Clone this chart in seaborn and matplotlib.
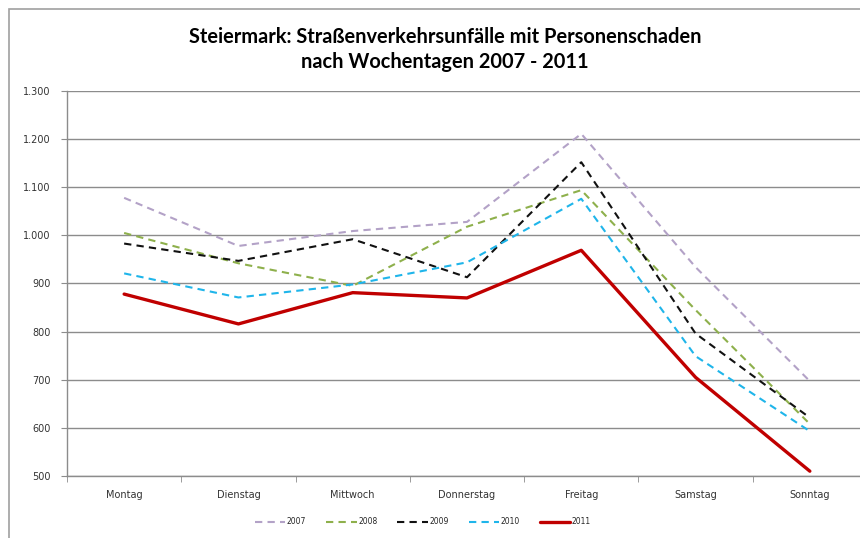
import matplotlib
matplotlib.use("Agg")
import matplotlib.pyplot as plt
import seaborn as sns
import pandas as pd
from matplotlib.patches import Rectangle
from matplotlib.ticker import FuncFormatter, FixedLocator

days = ["Montag", "Dienstag", "Mittwoch", "Donnerstag", "Freitag", "Samstag", "Sonntag"]
years = ["2007", "2008", "2009", "2010", "2011"]
v2007 = [1078, 978, 1009, 1028, 1211, 934, 697]
v2008 = [1005, 942, 895, 1018, 1094, 845, 608]
v2009 = [983, 947, 992, 913, 1152, 796, 621]
v2010 = [921, 871, 898, 944, 1076, 749, 593]
v2011 = [878, 816, 881, 870, 969, 705, 510]

colors = {"2007": "#b3a2c7", "2008": "#8eb04c", "2009": "#111111",
          "2010": "#1fb5ea", "2011": "#c00000"}
dashes = {"2007": (3.5, 2.5), "2008": (3.5, 2.5), "2009": (3.5, 2.5),
          "2010": (3.5, 2.5), "2011": ""}
widths = {"2007": 1.5, "2008": 1.5, "2009": 1.5, "2010": 1.5, "2011": 2.4}

df = pd.DataFrame({"day": days * 5,
                   "x": list(range(7)) * 5,
                   "year": sum([[y] * 7 for y in years], []),
                   "value": v2007 + v2008 + v2009 + v2010 + v2011})

H = 538
sns.set_style("white")
fig = plt.figure(figsize=(8.6, 5.38), dpi=100)
fig.patches.append(Rectangle((9 / 860, -0.1), 1.2, 1 - 9 / H + 0.1, transform=fig.transFigure,
                             fill=False, edgecolor="#a0a0a0", linewidth=1.2))
ax = fig.add_axes([67 / 860, 1 - 476 / H, 800 / 860, 385 / H])

for y in years:
    sub = df[df["year"] == y]
    sns.lineplot(data=sub, x="x", y="value", ax=ax, color=colors[y],
                 linewidth=widths[y], label=y, dashes=False, zorder=3 if y == "2011" else 2)
    line = ax.lines[-1]
    if dashes[y]:
        line.set_dashes(dashes[y])

ax.set_xlim(-0.5, 6.5)
ax.set_ylim(500, 1300)
ax.set_yticks(range(500, 1301, 100))
ax.yaxis.set_major_formatter(FuncFormatter(lambda v, p: f"{int(v):,}".replace(",", ".")))
ax.yaxis.grid(True, color="#8c8c8c", linewidth=1)
ax.set_axisbelow(True)
ax.set_xticks(range(7))
ax.set_xticklabels(days)
ax.xaxis.set_minor_locator(FixedLocator([i + 0.5 for i in range(-1, 7)]))
ax.tick_params(axis="x", which="major", length=0, pad=10, labelsize=7, labelcolor="#333333")
ax.tick_params(axis="x", which="minor", length=4, color="#8c8c8c", direction="out", bottom=True)
ax.tick_params(axis="y", length=4, color="#8c8c8c", direction="out", left=True, labelsize=7, labelcolor="#333333", pad=8)
ax.set_xlabel("")
ax.set_ylabel("")
for s in ["top", "right"]:
    ax.spines[s].set_visible(False)
for s in ["left", "bottom"]:
    ax.spines[s].set_color("#8c8c8c")
    ax.spines[s].set_linewidth(1)

handles, labels = ax.get_legend_handles_labels()
ax.legend(handles, labels, loc="center", bbox_to_anchor=(423 / 860, 1 - 522 / H),
          bbox_transform=fig.transFigure, ncol=5, frameon=False, fontsize=5.5,
          handlelength=4.0, handletextpad=0.2, columnspacing=2.6)

fig.text(445 / 860, 1 - 37 / H, "Steiermark: Straßenverkehrsunfälle mit Personenschaden",
         ha="center", va="center", fontsize=14.4, fontweight="bold", family="Lato", color="black")
fig.text(445 / 860, 1 - 62 / H, "nach Wochentagen 2007 - 2011",
         ha="center", va="center", fontsize=14.4, fontweight="bold", family="Lato", color="black")

fig.savefig("out.png", dpi=100)
